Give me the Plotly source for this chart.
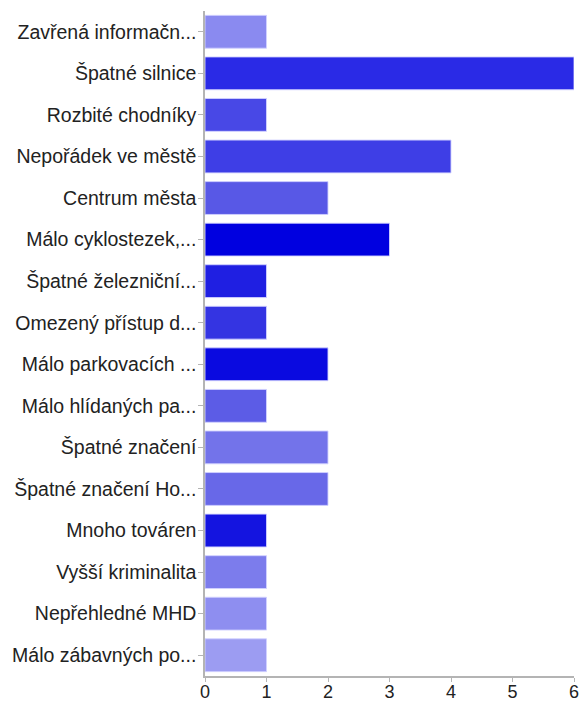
import plotly.graph_objects as go

# Survey answers: problem categories and number of responses
categories = [
    "Zavřená informačn...",
    "Špatné silnice",
    "Rozbité chodníky",
    "Nepořádek ve městě",
    "Centrum města",
    "Málo cyklostezek,...",
    "Špatné železniční...",
    "Omezený přístup d...",
    "Málo parkovacích ...",
    "Málo hlídaných pa...",
    "Špatné značení",
    "Špatné značení Ho...",
    "Mnoho továren",
    "Vyšší kriminalita",
    "Nepřehledné MHD",
    "Málo zábavných po...",
]
counts = [1, 6, 1, 4, 2, 3, 1, 1, 2, 1, 2, 2, 1, 1, 1, 1]
bar_colors = [
    "#8a8af0", "#2a2ae6", "#4848e6", "#3e3ee6",
    "#5858e6", "#0000e0", "#1f1fe2", "#3434e2",
    "#0a0ae0", "#5c5ce6", "#7373ea", "#6868e8",
    "#1414e0", "#7c7cec", "#8e8ef0", "#9c9cf2",
]
x_ticks = [0, 1, 2, 3, 4, 5, 6]

fig = go.Figure(
    go.Bar(
        x=counts,
        y=categories,
        orientation="h",
        marker=dict(color=bar_colors, line=dict(color="rgba(210,210,255,0.9)", width=1)),
    )
)

font_family = "Liberation Sans, Arial, Helvetica, sans-serif"

fig.update_layout(
    width=580,
    height=704,
    margin=dict(l=205, r=6, t=11, b=28),
    plot_bgcolor="white",
    paper_bgcolor="white",
    bargap=0.21,
    showlegend=False,
    font=dict(family=font_family, size=18, color="#222222"),
)
fig.update_xaxes(
    range=[0, 6],
    tickvals=x_ticks,
    automargin=False,
    showgrid=False,
    zeroline=False,
    showline=True,
    linecolor="#b4b4b4",
    linewidth=1.5,
    ticks="outside",
    ticklen=4,
    tickcolor="#b4b4b4",
    ticklabelstandoff=-5,
    tickfont=dict(size=18, color="#222222"),
)
fig.update_yaxes(
    autorange="reversed",
    automargin=False,
    showgrid=False,
    showline=True,
    linecolor="#b4b4b4",
    linewidth=1.5,
    ticks="outside",
    ticklen=5,
    tickcolor="#b4b4b4",
    ticklabelstandoff=-2,
    tickfont=dict(size=19.5, color="#222222"),
)

fig.write_html("out.html")
